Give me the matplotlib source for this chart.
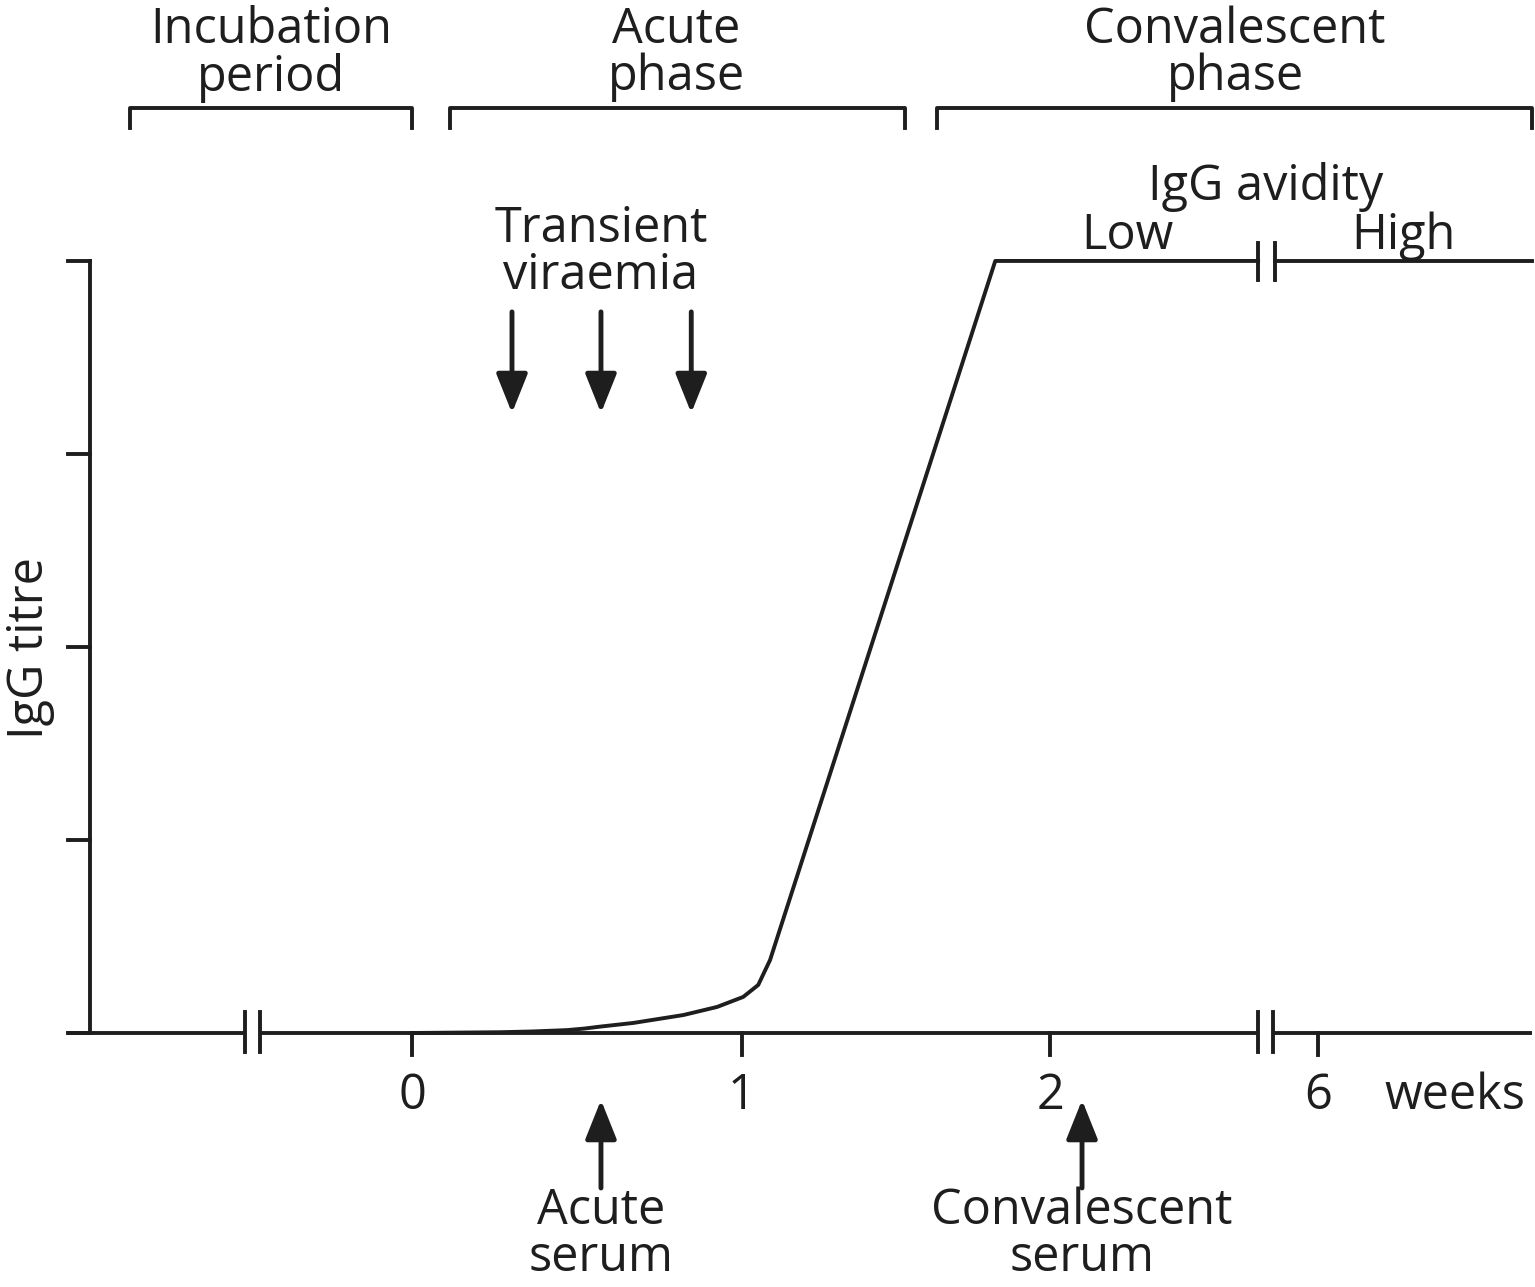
import numpy as np
import matplotlib
matplotlib.use("Agg")
import matplotlib.pyplot as plt

plt.rcParams['font.family'] = ['Open Sans', 'DejaVu Sans']

# IgG titre curve (x in weeks on the drawn scale, y in titre units)
curve_x = [0.0, 0.276, 0.379, 0.486, 0.540, 0.589, 0.693, 0.850, 0.956, 1.038, 1.085, 1.107, 1.122, 1.828, 2.652]
curve_y = [0.0, 0.004, 0.008, 0.015, 0.023, 0.033, 0.052, 0.093, 0.135, 0.187, 0.249, 0.326, 0.378, 4.0, 4.0]
plateau_x = [2.705, 3.511]
plateau_y = [4.0, 4.0]

# x axis pieces (broken twice)
base_pieces = [(-1.082, -0.524), (-0.476, 2.652), (2.699, 3.511)]
base_breaks = [-0.524, -0.476, 2.652, 2.699]
top_breaks = [2.652, 2.705]
xtick_pos = [0.0, 1.034, 2.0, 2.840]
xtick_lab = ['0', '1', '2', '6']
ytick_pos = [0, 1, 2, 3, 4]

# phases at the top
phase_names = ['Incubation\nperiod', 'Acute\nphase', 'Convalescent\nphase']
phase_start = [-0.884, 0.119, 1.646]
phase_end = [0.0, 1.545, 3.511]
phase_label_x = [-0.443, 0.827, 2.580]

viraemia_x = [0.313, 0.592, 0.875]
serum_x = [0.592, 2.100]
serum_names = ['Acute\nserum', 'Convalescent\nserum']

LW = 2.8
FS = 35
K = '#1e1e1e'
DY = -0.02  # small nudge for text baselines

fig = plt.figure(figsize=(15.35, 12.87), dpi=100)
ax = fig.add_axes([0, 0, 1, 1])
ax.set_xlim(-1.292, 3.520)
ax.set_ylim(-1.316, 5.352)
ax.axis('off')

# curve
ax.plot(curve_x, curve_y, color=K, lw=LW, solid_joinstyle='round')
ax.plot(plateau_x, plateau_y, color=K, lw=LW)
for bx in top_breaks:
    ax.plot([bx, bx], [3.902, 4.093], color=K, lw=LW)

# x axis
for a, b in base_pieces:
    ax.plot([a, b], [0, 0], color=K, lw=LW, solid_capstyle='butt')
for bx in base_breaks:
    ax.plot([bx, bx], [-0.098, 0.109], color=K, lw=LW)
for xt, lab in zip(xtick_pos, xtick_lab):
    ax.plot([xt, xt], [0, -0.114], color=K, lw=LW)
    ax.text(xt, -0.306 + DY, lab, ha='center', va='center', fontsize=FS, color=K)
ax.text(3.270, -0.306 + DY, 'weeks', ha='center', va='center', fontsize=FS, color=K)

# y axis
ax.plot([-1.009, -1.009], [0, 4], color=K, lw=LW, solid_capstyle='projecting')
for yt in ytick_pos:
    ax.plot([-1.078, -1.009], [yt, yt], color=K, lw=LW)
ax.text(-1.197, 1.995, 'IgG titre', rotation=90, ha='center', va='center', fontsize=FS, color=K)

# phase brackets
for name, a, b, lx in zip(phase_names, phase_start, phase_end, phase_label_x):
    ax.plot([a, a, b, b], [4.689, 4.793, 4.793, 4.689], color=K, lw=LW)
    ax.text(lx, 5.093 + DY, name, ha='center', va='center', fontsize=FS, linespacing=0.95, color=K)

# viraemia arrows
ax.text(0.592, 4.062 + DY, 'Transient\nviraemia', ha='center', va='center', fontsize=FS,
        linespacing=0.95, color=K)
for vx in viraemia_x:
    ax.annotate('', xy=(vx, 3.212), xytext=(vx, 3.736),
                arrowprops=dict(arrowstyle='-|>,head_length=1.2,head_width=0.48',
                                mutation_scale=20, lw=3.5, color=K, shrinkA=0, shrinkB=0))

# serum arrows
for sx, name in zip(serum_x, serum_names):
    ax.annotate('', xy=(sx, -0.347), xytext=(sx, -0.803),
                arrowprops=dict(arrowstyle='-|>,head_length=1.2,head_width=0.48',
                                mutation_scale=20, lw=3.5, color=K, shrinkA=0, shrinkB=0))
    ax.text(sx, -1.045, name, ha='center', va='center', fontsize=FS, linespacing=0.92, color=K)

# avidity
ax.text(2.674, 4.404 + DY, 'IgG avidity', ha='center', va='center', fontsize=FS, color=K)
ax.text(2.241, 4.150 + DY, 'Low', ha='center', va='center', fontsize=FS, color=K)
ax.text(3.107, 4.150 + DY, 'High', ha='center', va='center', fontsize=FS, color=K)

fig.savefig('out.png', dpi=100)
